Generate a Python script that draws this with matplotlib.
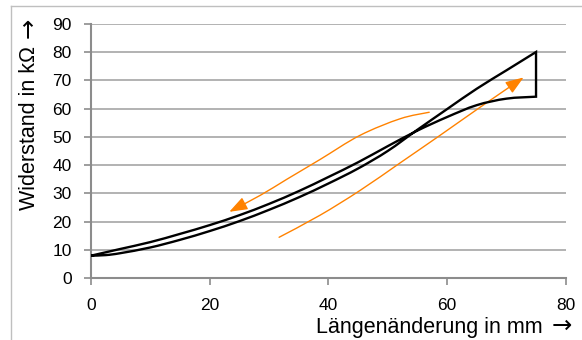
import matplotlib
matplotlib.use("Agg")
import matplotlib.pyplot as plt
from matplotlib.lines import Line2D
from matplotlib.path import Path
from matplotlib.patches import PathPatch, FancyArrowPatch

plt.rcParams['font.family'] = ['Liberation Sans', 'DejaVu Sans']

# Loading curve (Belastung): from (0,8) up to (75,80)
x_load = [0, 2.5, 5, 10, 15, 20, 25, 30, 35, 40, 45, 50, 55, 60, 65, 70, 75]
y_load = [8.0, 8.2, 8.9, 10.9, 13.6, 16.7, 20.2, 24.2, 28.6, 33.5, 38.8, 45.0, 52.5, 59.8, 67.0, 73.5, 80.0]

# Unloading curve (Entlastung): from (75,64.2) back to (0,8)
x_unload = [0, 2.5, 5, 10, 15, 20, 25, 30, 35, 40, 45, 50, 55, 60, 65, 70, 75]
y_unload = [8.0, 9.2, 10.4, 12.8, 15.7, 18.8, 22.3, 26.3, 30.8, 35.8, 41.0, 46.7, 52.2, 57.0, 61.2, 63.5, 64.2]

# Orange direction arrows
x_arrow_up = [31.7, 38.6, 45.3, 52.1, 58.8, 65.6, 72.9]
y_arrow_up = [14.5, 22.3, 31.0, 40.8, 50.5, 60.5, 71.0]
x_arrow_down = [57.0, 52.1, 45.3, 38.6, 33.0, 28.5, 23.3]
y_arrow_down = [58.7, 56.4, 50.5, 42.0, 35.0, 29.3, 23.5]

x_ticks = [0, 20, 40, 60, 80]
y_ticks = [0, 10, 20, 30, 40, 50, 60, 70, 80, 90]

orange = '#ff8200'
grid_c = '#a6a6a6'
axis_c = '#8c8c8c'


def smooth_segments(xs, ys):
    """Bezier (smoothed-line) rendering through the given points."""
    pts = list(zip(xs, ys))
    n = len(pts)
    verts, codes = [], []
    for i in range(n - 1):
        p0 = pts[max(i - 1, 0)]
        p1 = pts[i]
        p2 = pts[i + 1]
        p3 = pts[min(i + 2, n - 1)]
        c1 = (p1[0] + (p2[0] - p0[0]) / 6, p1[1] + (p2[1] - p0[1]) / 6)
        c2 = (p2[0] - (p3[0] - p1[0]) / 6, p2[1] - (p3[1] - p1[1]) / 6)
        verts += [c1, c2, p2]
        codes += [Path.CURVE4] * 3
    return pts[0], verts, codes


fig = plt.figure(figsize=(5.82, 3.40), dpi=100)
ax = fig.add_axes([91/582, 61.7/340, 474.7/582, 254.6/340])

# loop: loading up, vertical drop, unloading back
start, v1, c1 = smooth_segments(x_load, y_load)
ustart, v2, c2 = smooth_segments(x_unload[::-1], y_unload[::-1])
verts = [start] + v1 + [ustart] + v2
codes = [Path.MOVETO] + c1 + [Path.LINETO] + c2
ax.add_patch(PathPatch(Path(verts, codes), fill=False, edgecolor='black', lw=1.7,
                       joinstyle='miter', zorder=4))

for xs, ys in [(x_arrow_up, y_arrow_up), (x_arrow_down, y_arrow_down)]:
    s, v, c = smooth_segments(xs, ys)
    p = Path([s] + v, [Path.MOVETO] + c)
    ax.add_patch(FancyArrowPatch(path=p, arrowstyle='-|>,head_length=1.1,head_width=0.4',
                                 mutation_scale=10, color=orange, lw=1.0, zorder=3))

ax.set_xlim(0, 80)
ax.set_ylim(0, 90)
ax.set_xticks(x_ticks)
ax.set_yticks(y_ticks)
ax.yaxis.grid(True, color=grid_c, lw=1.2)
ax.set_axisbelow(True)
for s in ['top', 'right']:
    ax.spines[s].set_visible(False)
for s in ['left', 'bottom']:
    ax.spines[s].set_color(axis_c)
    ax.spines[s].set_linewidth(1.5)
ax.tick_params(axis='both', colors=axis_c, length=5, width=1.2, labelsize=12.5,
               labelcolor='black')
ax.tick_params(axis='y', pad=9)
ax.tick_params(axis='x', pad=9)

W, H = 582, 340
# x axis label with arrow
fig.text(543/W, 1 - 333.3/H, 'Längenänderung in mm', ha='right', va='baseline', fontsize=15.5)
fig.text(572/W, 1 - 333.3/H, '→', ha='right', va='baseline', fontsize=17.5,
         family=['DejaVu Sans'])
# y axis label with arrow
fig.text(35/W, 1 - 46/H, 'Widerstand in kΩ', rotation=90, rotation_mode='anchor',
         ha='right', va='baseline', fontsize=15.5)
fig.text(35/W, 1 - 18/H, '→', rotation=90, rotation_mode='anchor',
         ha='right', va='baseline', fontsize=17.5, family=['DejaVu Sans'])

# chart area frame
fig.add_artist(Line2D([11/W, 1], [1 - 6/H, 1 - 6/H], transform=fig.transFigure,
                      color='#bfbfbf', lw=1.0))
fig.add_artist(Line2D([11/W, 11/W], [0, 1 - 6/H], transform=fig.transFigure,
                      color='#bfbfbf', lw=1.0))

fig.savefig('out.png', dpi=100)
